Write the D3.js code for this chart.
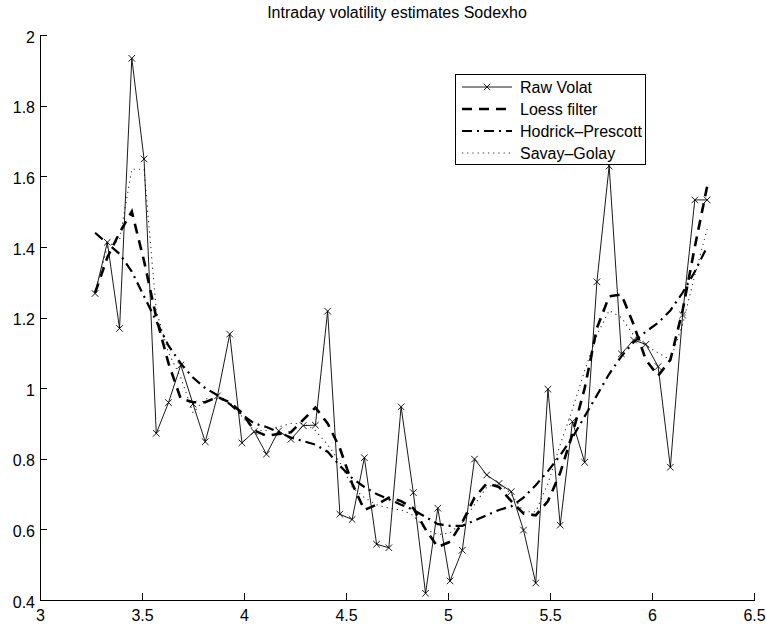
<!DOCTYPE html>
<html>
<head>
<meta charset="utf-8">
<script src="https://cdn.jsdelivr.net/npm/d3@7"></script>
<style>
  body { margin: 0; background: #fff; }
  svg { display: block; }
  text { font-family: "Liberation Sans", Arial, Helvetica, sans-serif; fill: #000; }
</style>
</head>
<body>
<svg id="chart" width="766" height="624"></svg>
<script>
// ---- data ----
const chartTitle = "Intraday volatility estimates Sodexho";

const timeAxis = [3.27, 3.33, 3.39, 3.45, 3.51, 3.57, 3.63, 3.69, 3.75, 3.81,
  3.87, 3.93, 3.99, 4.05, 4.11, 4.17, 4.23, 4.29, 4.35, 4.41,
  4.47, 4.53, 4.59, 4.65, 4.71, 4.77, 4.83, 4.89, 4.95, 5.01,
  5.07, 5.13, 5.19, 5.25, 5.31, 5.37, 5.43, 5.49, 5.55, 5.61,
  5.67, 5.73, 5.79, 5.85, 5.91, 5.97, 6.03, 6.09, 6.15, 6.21, 6.27];

const rawVolat = [1.268, 1.413, 1.169, 1.934, 1.649, 0.872, 0.959, 1.065, 0.955, 0.848,
  0.978, 1.153, 0.845, 0.877, 0.813, 0.879, 0.855, 0.894, 0.895, 1.218,
  0.643, 0.628, 0.803, 0.558, 0.548, 0.947, 0.704, 0.419, 0.660, 0.454,
  0.541, 0.799, 0.754, 0.730, 0.707, 0.598, 0.448, 0.997, 0.612, 0.905,
  0.790, 1.301, 1.629, 1.097, 1.136, 1.124, 1.061, 0.776, 1.207, 1.533, 1.533];

const loessFilter = [1.27, 1.37, 1.44, 1.50, 1.36, 1.20, 1.07, 0.97, 0.96, 0.96,
  0.975, 0.96, 0.93, 0.88, 0.865, 0.87, 0.875, 0.91, 0.945, 0.90,
  0.83, 0.73, 0.655, 0.67, 0.69, 0.68, 0.66, 0.60, 0.55, 0.565,
  0.62, 0.69, 0.73, 0.72, 0.68, 0.645, 0.64, 0.68, 0.76, 0.87,
  1.00, 1.17, 1.26, 1.265, 1.18, 1.08, 1.035, 1.08, 1.22, 1.40, 1.57];

const hodrickPrescott = [1.44, 1.41, 1.38, 1.33, 1.26, 1.19, 1.12, 1.07, 1.03, 1.00,
  0.98, 0.955, 0.925, 0.90, 0.89, 0.875, 0.86, 0.85, 0.84, 0.82,
  0.78, 0.745, 0.72, 0.70, 0.685, 0.67, 0.655, 0.635, 0.615, 0.61,
  0.61, 0.625, 0.64, 0.655, 0.665, 0.69, 0.725, 0.765, 0.81, 0.86,
  0.92, 0.98, 1.04, 1.09, 1.13, 1.16, 1.185, 1.22, 1.27, 1.33, 1.40];

const savayGolay = [1.27, 1.40, 1.42, 1.62, 1.62, 1.22, 1.10, 1.03, 0.93, 0.97,
  0.97, 0.96, 0.92, 0.88, 0.88, 0.89, 0.90, 0.90, 0.88, 0.84,
  0.79, 0.72, 0.69, 0.67, 0.66, 0.655, 0.64, 0.60, 0.585, 0.59,
  0.62, 0.67, 0.72, 0.73, 0.70, 0.65, 0.65, 0.73, 0.84, 0.94,
  1.05, 1.15, 1.22, 1.20, 1.15, 1.12, 1.10, 1.08, 1.18, 1.32, 1.45];

const seriesNames = ["Raw Volat", "Loess filter", "Hodrick\u2013Prescott", "Savay\u2013Golay"];
const xTickValues = [3, 3.5, 4, 4.5, 5, 5.5, 6, 6.5];
const yTickValues = [0.4, 0.6, 0.8, 1, 1.2, 1.4, 1.6, 1.8, 2];

// ---- layout ----
const svg = d3.select("#chart");
const plot = { left: 40, top: 35, right: 754, bottom: 600 };
const fontSize = "16px";

const x = d3.scaleLinear().domain([3, 6.5]).range([plot.left, plot.right]);
const y = d3.scaleLinear().domain([0.4, 2]).range([plot.bottom, plot.top]);

// line styles for each series
const styles = [
  { values: rawVolat,        width: 0.9, dash: null,       color: "#000", marker: true },
  { values: loessFilter,     width: 2.6, dash: "10,7",     color: "#000" },
  { values: hodrickPrescott, width: 2.2, dash: "10,5,2,5", color: "#000" },
  { values: savayGolay,      width: 1.1, dash: "1.2,4",    color: "#333" }
];

// ---- axes (ticks pointing inward, no box) ----
const fmt = d => String(d);

const gx = svg.append("g")
  .attr("transform", `translate(0,${plot.bottom})`)
  .call(d3.axisBottom(x).tickValues(xTickValues).tickFormat(fmt)
        .tickSizeInner(-7).tickSizeOuter(0).tickPadding(10));
const gy = svg.append("g")
  .attr("transform", `translate(${plot.left},0)`)
  .call(d3.axisLeft(y).tickValues(yTickValues).tickFormat(fmt)
        .tickSizeInner(-7).tickSizeOuter(0).tickPadding(5));
gy.selectAll(".tick text").attr("dy", "0.45em");

[gx, gy].forEach(g => {
  g.selectAll("path.domain").attr("stroke", "#000").attr("stroke-width", 1).attr("shape-rendering", "crispEdges");
  g.selectAll(".tick line").attr("stroke", "#000").attr("shape-rendering", "crispEdges");
  g.selectAll(".tick text").style("font-size", fontSize).style("font-family", '"Liberation Sans", Arial, sans-serif');
});

// ---- title ----
svg.append("text")
  .attr("x", (plot.left + plot.right) / 2)
  .attr("y", 18)
  .attr("text-anchor", "middle")
  .style("font-size", fontSize)
  .text(chartTitle);

// ---- series ----
const line = d3.line().x((d, i) => x(timeAxis[i])).y(d => y(d));

styles.slice().reverse().forEach(s => {
  svg.append("path")
    .datum(s.values)
    .attr("d", line)
    .attr("fill", "none")
    .attr("stroke", s.color)
    .attr("stroke-width", s.width)
    .attr("stroke-dasharray", s.dash);
});

// x-shaped markers on the raw series
const cross = d3.symbol().type(d3.symbolX).size(30);
svg.append("g").selectAll("path")
  .data(rawVolat)
  .join("path")
  .attr("d", cross)
  .attr("transform", (d, i) => `translate(${x(timeAxis[i])},${y(d)})`)
  .attr("fill", "none")
  .attr("stroke", "#000")
  .attr("stroke-width", 0.9);

// ---- legend ----
const legend = { x: 455, y: 74, w: 190, h: 90, rowH: 22 };
const lg = svg.append("g");
lg.append("rect")
  .attr("x", legend.x + 0.5).attr("y", legend.y + 0.5)
  .attr("width", legend.w).attr("height", legend.h)
  .attr("fill", "#fff").attr("stroke", "#000").attr("stroke-width", 1);

seriesNames.forEach((name, k) => {
  const cy = legend.y + 13 + k * legend.rowH;
  const s = styles[k];
  lg.append("line")
    .attr("x1", legend.x + 7).attr("x2", legend.x + 57)
    .attr("y1", cy).attr("y2", cy)
    .attr("stroke", s.color)
    .attr("stroke-width", s.width)
    .attr("stroke-dasharray", s.dash);
  if (s.marker) {
    lg.append("path")
      .attr("d", cross)
      .attr("transform", `translate(${legend.x + 32},${cy})`)
      .attr("fill", "none").attr("stroke", "#000").attr("stroke-width", 0.9);
  }
  lg.append("text")
    .attr("x", legend.x + 65)
    .attr("y", cy)
    .attr("dy", "0.36em")
    .style("font-size", fontSize)
    .text(name);
});
</script>
</body>
</html>
